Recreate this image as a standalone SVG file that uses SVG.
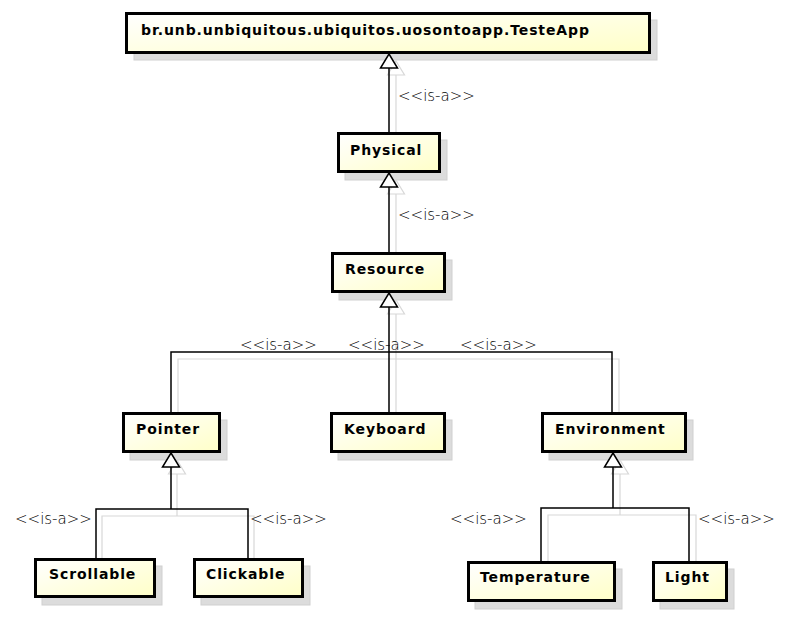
<svg xmlns="http://www.w3.org/2000/svg" width="793" height="641" viewBox="0 0 793 641">
<defs>
<linearGradient id="fill" x1="0" y1="0" x2="1" y2="1">
<stop offset="0" stop-color="#ffffff"/>
<stop offset="1" stop-color="#ffffc8"/>
</linearGradient>
</defs>
<style>
.shadow{fill:#dcdcdc;stroke:#d0d0d0;stroke-width:1}
.box{fill:url(#fill);stroke:#000;stroke-width:3}
.name{font-family:"DejaVu Sans",sans-serif;font-weight:bold;font-size:14px;letter-spacing:0.9px;fill:#000}
.lbl{font-family:"DejaVu Sans",sans-serif;font-weight:200;font-size:15px;fill:#000}
.edge{fill:none;stroke:#000;stroke-width:1.5}
.edgeS{fill:none;stroke:#d8d8d8;stroke-width:1.2}
.tri{fill:#fff;stroke:#000;stroke-width:1.5}
.triS{fill:#fff;stroke:#d8d8d8;stroke-width:1.2}
</style>
<rect width="793" height="641" fill="#fff"/>

<!-- shadows of nodes -->
<g id="shadows">
<rect class="shadow" x="134" y="20" width="523" height="40"/>
<rect class="shadow" x="345" y="140" width="102" height="40"/>
<rect class="shadow" x="339" y="260" width="113" height="40"/>
<rect class="shadow" x="130" y="420" width="97" height="40"/>
<rect class="shadow" x="338" y="420" width="114" height="40"/>
<rect class="shadow" x="549" y="420" width="144" height="40"/>
<rect class="shadow" x="42" y="566" width="120" height="39"/>
<rect class="shadow" x="201" y="566" width="109" height="39"/>
<rect class="shadow" x="475" y="569" width="147" height="40"/>
<rect class="shadow" x="660" y="569" width="74" height="40"/>
</g>

<!-- connectors -->
<g id="connectors">
<g id="connector-shadows">
<path class="edgeS" d="M396,133 V75"/>
<path class="triS" d="M396,61 L404.5,75 L387.5,75 Z"/>
<path class="edgeS" d="M396,253 V194"/>
<path class="triS" d="M396,180 L404.5,194 L387.5,194 Z"/>
<path class="edgeS" d="M396,314 V413 M178,413 V359 H619 V413"/>
<path class="triS" d="M396,300 L404.5,314 L387.5,314 Z"/>
<path class="edgeS" d="M177,474 V516 M102,559 V516 H254 V559"/>
<path class="triS" d="M177,460 L185.5,474 L168.5,474 Z"/>
<path class="edgeS" d="M620,474 V515 M548,562 V515 H696 V562"/>
<path class="triS" d="M620,460 L628.5,474 L611.5,474 Z"/>
</g>
<g id="e-physical-testeapp">
<path class="edge" d="M389,133 V68"/>
<path class="tri" d="M389,54 L397.5,68 L380.5,68 Z"/>
</g>
<g id="e-resource-physical">
<path class="edge" d="M389,253 V187"/>
<path class="tri" d="M389,173 L397.5,187 L380.5,187 Z"/>
</g>
<g id="e-resource-children">
<path class="edge" d="M389,307 V413 M171,413 V352 H612 V413"/>
<path class="tri" d="M389,293 L397.5,307 L380.5,307 Z"/>
</g>
<g id="e-pointer-children">
<path class="edge" d="M171,467 V509 M96,559 V509 H248 V559"/>
<path class="tri" d="M171,453 L179.5,467 L162.5,467 Z"/>
</g>
<g id="e-environment-children">
<path class="edge" d="M613,467 V508 M541,562 V508 H689 V562"/>
<path class="tri" d="M613,453 L621.5,467 L604.5,467 Z"/>
</g>
<g id="labels">
<text class="lbl" x="398" y="101">&lt;&lt;is-a&gt;&gt;</text>
<text class="lbl" x="398" y="220">&lt;&lt;is-a&gt;&gt;</text>
<text class="lbl" x="240" y="350">&lt;&lt;is-a&gt;&gt;</text>
<text class="lbl" x="348" y="350">&lt;&lt;is-a&gt;&gt;</text>
<text class="lbl" x="460" y="350">&lt;&lt;is-a&gt;&gt;</text>
<text class="lbl" x="15" y="524">&lt;&lt;is-a&gt;&gt;</text>
<text class="lbl" x="250" y="524">&lt;&lt;is-a&gt;&gt;</text>
<text class="lbl" x="450" y="524">&lt;&lt;is-a&gt;&gt;</text>
<text class="lbl" x="698" y="524">&lt;&lt;is-a&gt;&gt;</text>
</g>
</g>

<g id="node-testeapp">
<rect class="box" x="126.5" y="13.5" width="523" height="39"/>
<text class="name" x="141" y="35">br.unb.unbiquitous.ubiquitos.uosontoapp.TesteApp</text>
</g>
<g id="node-physical">
<rect class="box" x="338.5" y="133.5" width="101" height="38"/>
<text class="name" x="350" y="155">Physical</text>
</g>
<g id="node-resource">
<rect class="box" x="332.5" y="253.5" width="112" height="38"/>
<text class="name" x="345" y="274">Resource</text>
</g>
<g id="node-pointer">
<rect class="box" x="123.5" y="413.5" width="96" height="38"/>
<text class="name" x="136" y="434">Pointer</text>
</g>
<g id="node-keyboard">
<rect class="box" x="331.5" y="413.5" width="113" height="38"/>
<text class="name" x="344" y="434">Keyboard</text>
</g>
<g id="node-environment">
<rect class="box" x="542.5" y="413.5" width="143" height="38"/>
<text class="name" x="555" y="434">Environment</text>
</g>
<g id="node-scrollable">
<rect class="box" x="35.5" y="559.5" width="119" height="37"/>
<text class="name" x="49" y="579">Scrollable</text>
</g>
<g id="node-clickable">
<rect class="box" x="194.5" y="559.5" width="108" height="37"/>
<text class="name" x="206" y="579">Clickable</text>
</g>
<g id="node-temperature">
<rect class="box" x="468.5" y="562.5" width="146" height="38"/>
<text class="name" x="480" y="582">Temperature</text>
</g>
<g id="node-light">
<rect class="box" x="653.5" y="562.5" width="73" height="38"/>
<text class="name" x="665" y="582">Light</text>
</g>
</svg>
